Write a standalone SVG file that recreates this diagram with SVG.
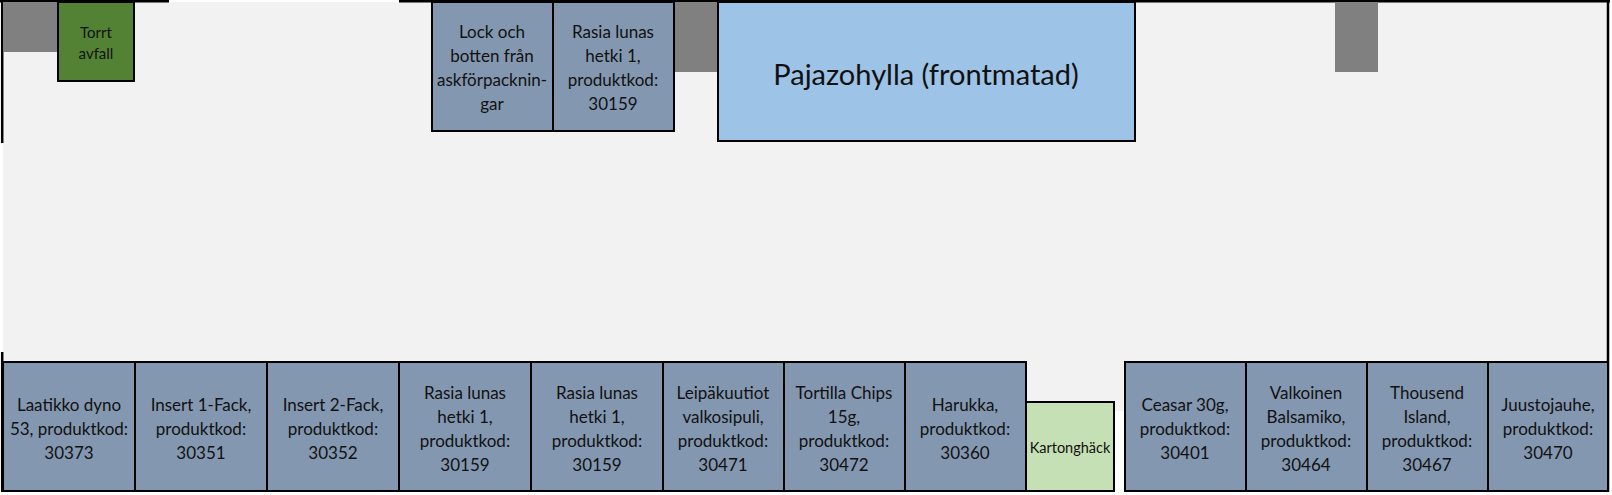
<svg xmlns="http://www.w3.org/2000/svg" width="1612" height="495" viewBox="0 0 1612 495">
<style>
.shelf{fill:#8497b0;stroke:#000;stroke-width:2}
.gray{fill:#808080}
.t{font-family:Lato,"Liberation Sans",sans-serif;font-size:17px;fill:#111;text-anchor:middle;dominant-baseline:central}
.border{stroke:#000;stroke-width:2.5;fill:none}
</style>
<rect width="1612" height="495" fill="#ffffff"/>
<rect x="3" y="2" width="1605" height="490" fill="#f2f2f2"/>
<rect x="1115" y="411" width="10" height="84" fill="#ffffff"/>
<g id="walls">
<line class="border" x1="0" y1="1.2" x2="169" y2="1.2"/>
<line class="border" x1="399" y1="1.2" x2="1610" y2="1.2"/>
<line class="border" x1="2.2" y1="0" x2="2.2" y2="143"/>
<line class="border" x1="2.2" y1="352" x2="2.2" y2="492"/>
<line class="border" x1="1608" y1="0" x2="1608" y2="492"/>
</g>
<g id="pillar1"><rect class="gray" x="3" y="2" width="54" height="50"/></g>
<g id="pillar2"><rect class="gray" x="674" y="2" width="43" height="70"/></g>
<g id="pillar3"><rect class="gray" x="1335" y="2" width="43" height="70"/></g>
<g id="torrt-avfall">
<rect x="58" y="2" width="76" height="79" fill="#548235" stroke="#000" stroke-width="2"/>
<text class="t" style="font-size:15px" x="96" y="32">Torrt</text>
<text class="t" style="font-size:15px" x="96" y="53">avfall</text>
</g>
<g id="lock-och-botten">
<rect class="shelf" x="432" y="2" width="121" height="129"/>
<text class="t" x="492" y="31">Lock och</text>
<text class="t" x="492" y="55">botten från</text>
<text class="t" x="492" y="79">askförpacknin-</text>
<text class="t" x="492" y="103">gar</text>
</g>
<g id="rasia-top">
<rect class="shelf" x="553" y="2" width="121" height="129"/>
<text class="t" x="613" y="31">Rasia lunas</text>
<text class="t" x="613" y="55">hetki 1,</text>
<text class="t" x="613" y="79">produktkod:</text>
<text class="t" x="613" y="103">30159</text>
</g>
<g id="pajazohylla">
<rect x="718" y="2" width="417" height="139" fill="#9dc3e6" stroke="#000" stroke-width="2"/>
<text class="t" style="font-size:29px" x="926" y="73">Pajazohylla (frontmatad)</text>
</g>
<g id="laatikko">
<rect class="shelf" x="3" y="362" width="132" height="129"/>
<text class="t" x="69" y="404">Laatikko dyno</text>
<text class="t" x="69" y="428">53, produktkod:</text>
<text class="t" x="69" y="452">30373</text>
</g>
<g id="insert1">
<rect class="shelf" x="135" y="362" width="132" height="129"/>
<text class="t" x="201" y="404">Insert 1-Fack,</text>
<text class="t" x="201" y="428">produktkod:</text>
<text class="t" x="201" y="452">30351</text>
</g>
<g id="insert2">
<rect class="shelf" x="267" y="362" width="132" height="129"/>
<text class="t" x="333" y="404">Insert 2-Fack,</text>
<text class="t" x="333" y="428">produktkod:</text>
<text class="t" x="333" y="452">30352</text>
</g>
<g id="rasia-1">
<rect class="shelf" x="399" y="362" width="132" height="129"/>
<text class="t" x="465" y="392">Rasia lunas</text>
<text class="t" x="465" y="416">hetki 1,</text>
<text class="t" x="465" y="440">produktkod:</text>
<text class="t" x="465" y="464">30159</text>
</g>
<g id="rasia-2">
<rect class="shelf" x="531" y="362" width="132" height="129"/>
<text class="t" x="597" y="392">Rasia lunas</text>
<text class="t" x="597" y="416">hetki 1,</text>
<text class="t" x="597" y="440">produktkod:</text>
<text class="t" x="597" y="464">30159</text>
</g>
<g id="leipakuutiot">
<rect class="shelf" x="663" y="362" width="121" height="129"/>
<text class="t" x="723" y="392">Leipäkuutiot</text>
<text class="t" x="723" y="416">valkosipuli,</text>
<text class="t" x="723" y="440">produktkod:</text>
<text class="t" x="723" y="464">30471</text>
</g>
<g id="tortilla">
<rect class="shelf" x="784" y="362" width="121" height="129"/>
<text class="t" x="844" y="392">Tortilla Chips</text>
<text class="t" x="844" y="416">15g,</text>
<text class="t" x="844" y="440">produktkod:</text>
<text class="t" x="844" y="464">30472</text>
</g>
<g id="harukka">
<rect class="shelf" x="905" y="362" width="121" height="129"/>
<text class="t" x="965" y="404">Harukka,</text>
<text class="t" x="965" y="428">produktkod:</text>
<text class="t" x="965" y="452">30360</text>
</g>
<g id="kartonghack">
<rect x="1026" y="402" width="88" height="89" fill="#c5e0b4" stroke="#000" stroke-width="2"/>
<text class="t" style="font-size:14.5px" x="1070" y="447">Kartonghäck</text>
</g>
<g id="ceasar">
<rect class="shelf" x="1125" y="362" width="121" height="129"/>
<text class="t" x="1185" y="404">Ceasar 30g,</text>
<text class="t" x="1185" y="428">produktkod:</text>
<text class="t" x="1185" y="452">30401</text>
</g>
<g id="valkoinen">
<rect class="shelf" x="1246" y="362" width="121" height="129"/>
<text class="t" x="1306" y="392">Valkoinen</text>
<text class="t" x="1306" y="416">Balsamiko,</text>
<text class="t" x="1306" y="440">produktkod:</text>
<text class="t" x="1306" y="464">30464</text>
</g>
<g id="thousend">
<rect class="shelf" x="1367" y="362" width="121" height="129"/>
<text class="t" x="1427" y="392">Thousend</text>
<text class="t" x="1427" y="416">Island,</text>
<text class="t" x="1427" y="440">produktkod:</text>
<text class="t" x="1427" y="464">30467</text>
</g>
<g id="juustojauhe">
<rect class="shelf" x="1488" y="362" width="120" height="129"/>
<text class="t" x="1548" y="404">Juustojauhe,</text>
<text class="t" x="1548" y="428">produktkod:</text>
<text class="t" x="1548" y="452">30470</text>
</g>
</svg>
